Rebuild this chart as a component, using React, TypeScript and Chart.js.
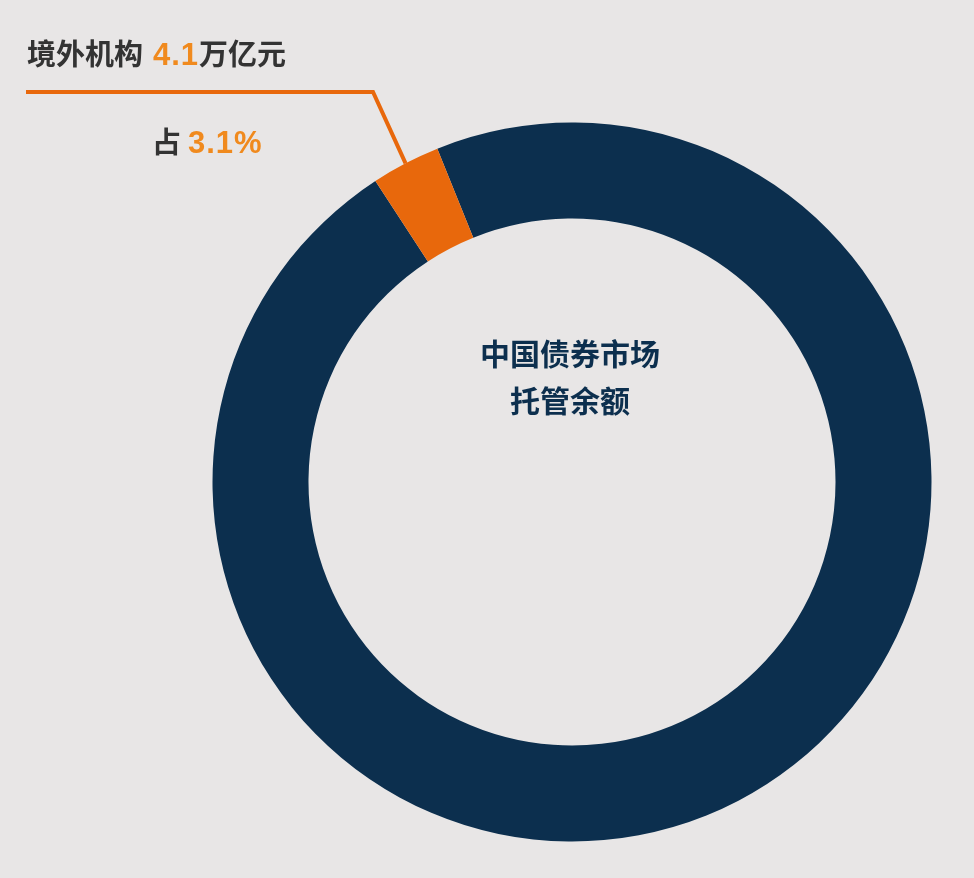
import React, { useEffect, useRef } from 'react';
import Chart from 'chart.js/auto';

// 中国债券市场托管余额（万亿元）
const categories = ['其他投资者', '境外机构'];
const holdings = [128.2, 4.1];
const foreignShareLabel = '3.1%';
const foreignAmountLabel = '4.1';
const centerLines = ['中国债券市场', '托管余额'];

const NAVY = '#0c2f4e';
const ORANGE = '#e8680c';
const ORANGE_TEXT = '#f08a1e';
const GREY_TEXT = '#333333';
const BG = '#e8e6e6';
const CJK = '"Noto Sans CJK SC", "Noto Sans", sans-serif';
const DIGITS = '"Liberation Sans", Arial, sans-serif';

const calloutPlugin = {
  id: 'callout',
  afterDraw(chart: any) {
    const { ctx } = chart;
    const arc = chart.getDatasetMeta(0).data[1];
    if (!arc) return;
    const { x, y, outerRadius, startAngle, endAngle } = arc.getProps(['x', 'y', 'outerRadius', 'startAngle', 'endAngle']);
    const mid = (startAngle + endAngle) / 2;
    const ex = x + Math.cos(mid) * outerRadius;
    const ey = y + Math.sin(mid) * outerRadius;

    ctx.save();
    // leader line
    ctx.strokeStyle = ORANGE;
    ctx.lineWidth = 4;
    ctx.lineJoin = 'miter';
    ctx.beginPath();
    ctx.moveTo(26, 92);
    ctx.lineTo(373, 92);
    ctx.lineTo(ex, ey);
    ctx.stroke();

    ctx.textBaseline = 'alphabetic';
    ctx.textAlign = 'left';
    const cjkFont = `bold 29px ${CJK}`;
    const digitFont = `bold 31px ${DIGITS}`;

    // 境外机构 4.1万亿元
    let tx = 27;
    ctx.font = cjkFont;
    ctx.fillStyle = GREY_TEXT;
    ctx.fillText('境外机构', tx, 65);
    tx += ctx.measureText('境外机构').width + 10;
    ctx.font = digitFont;
    ctx.letterSpacing = '1px';
    ctx.fillStyle = ORANGE_TEXT;
    ctx.fillText(foreignAmountLabel, tx, 65);
    tx += ctx.measureText(foreignAmountLabel).width;
    ctx.letterSpacing = '0px';
    ctx.font = cjkFont;
    ctx.fillStyle = GREY_TEXT;
    ctx.fillText('万亿元', tx, 65);

    // 占 3.1%
    tx = 152;
    ctx.fillStyle = GREY_TEXT;
    ctx.fillText('占', tx, 153);
    tx += ctx.measureText('占').width + 7;
    ctx.font = digitFont;
    ctx.letterSpacing = '1px';
    ctx.fillStyle = ORANGE_TEXT;
    ctx.fillText(foreignShareLabel, tx, 153);
    ctx.letterSpacing = '0px';

    // centre label
    ctx.textAlign = 'center';
    ctx.textBaseline = 'middle';
    ctx.font = `bold 30px ${CJK}`;
    ctx.fillStyle = NAVY;
    centerLines.forEach((line, i) => {
      ctx.fillText(line, x - 2, 354 + i * 47);
    });
    ctx.restore();
  },
};

const App: React.FC = () => {
  const chartRef = useRef<HTMLCanvasElement>(null);
  const chartInstance = useRef<Chart | null>(null);

  useEffect(() => {
    document.body.style.margin = '0';
    if (!chartRef.current) return;
    if (chartInstance.current) chartInstance.current.destroy();

    chartInstance.current = new Chart(chartRef.current, {
      type: 'doughnut',
      data: {
        labels: categories,
        datasets: [
          {
            data: holdings,
            backgroundColor: [NAVY, ORANGE],
            borderWidth: 0,
            hoverOffset: 0,
          },
        ],
      },
      options: {
        animation: false,
        responsive: false,
        cutout: '73.3%',
        rotation: -22,
        layout: { padding: { left: 212.5, right: 42.5, top: 122.5, bottom: 36.5 } },
        plugins: {
          legend: { display: false },
          tooltip: { enabled: false },
        },
      },
      plugins: [calloutPlugin],
    });

    return () => {
      if (chartInstance.current) {
        chartInstance.current.destroy();
        chartInstance.current = null;
      }
    };
  }, []);

  return (
    <div style={{ width: '974px', height: '878px', background: BG }}>
      <canvas ref={chartRef} width={974} height={878} style={{ display: 'block', width: '974px', height: '878px' }} />
    </div>
  );
};

export default App;
